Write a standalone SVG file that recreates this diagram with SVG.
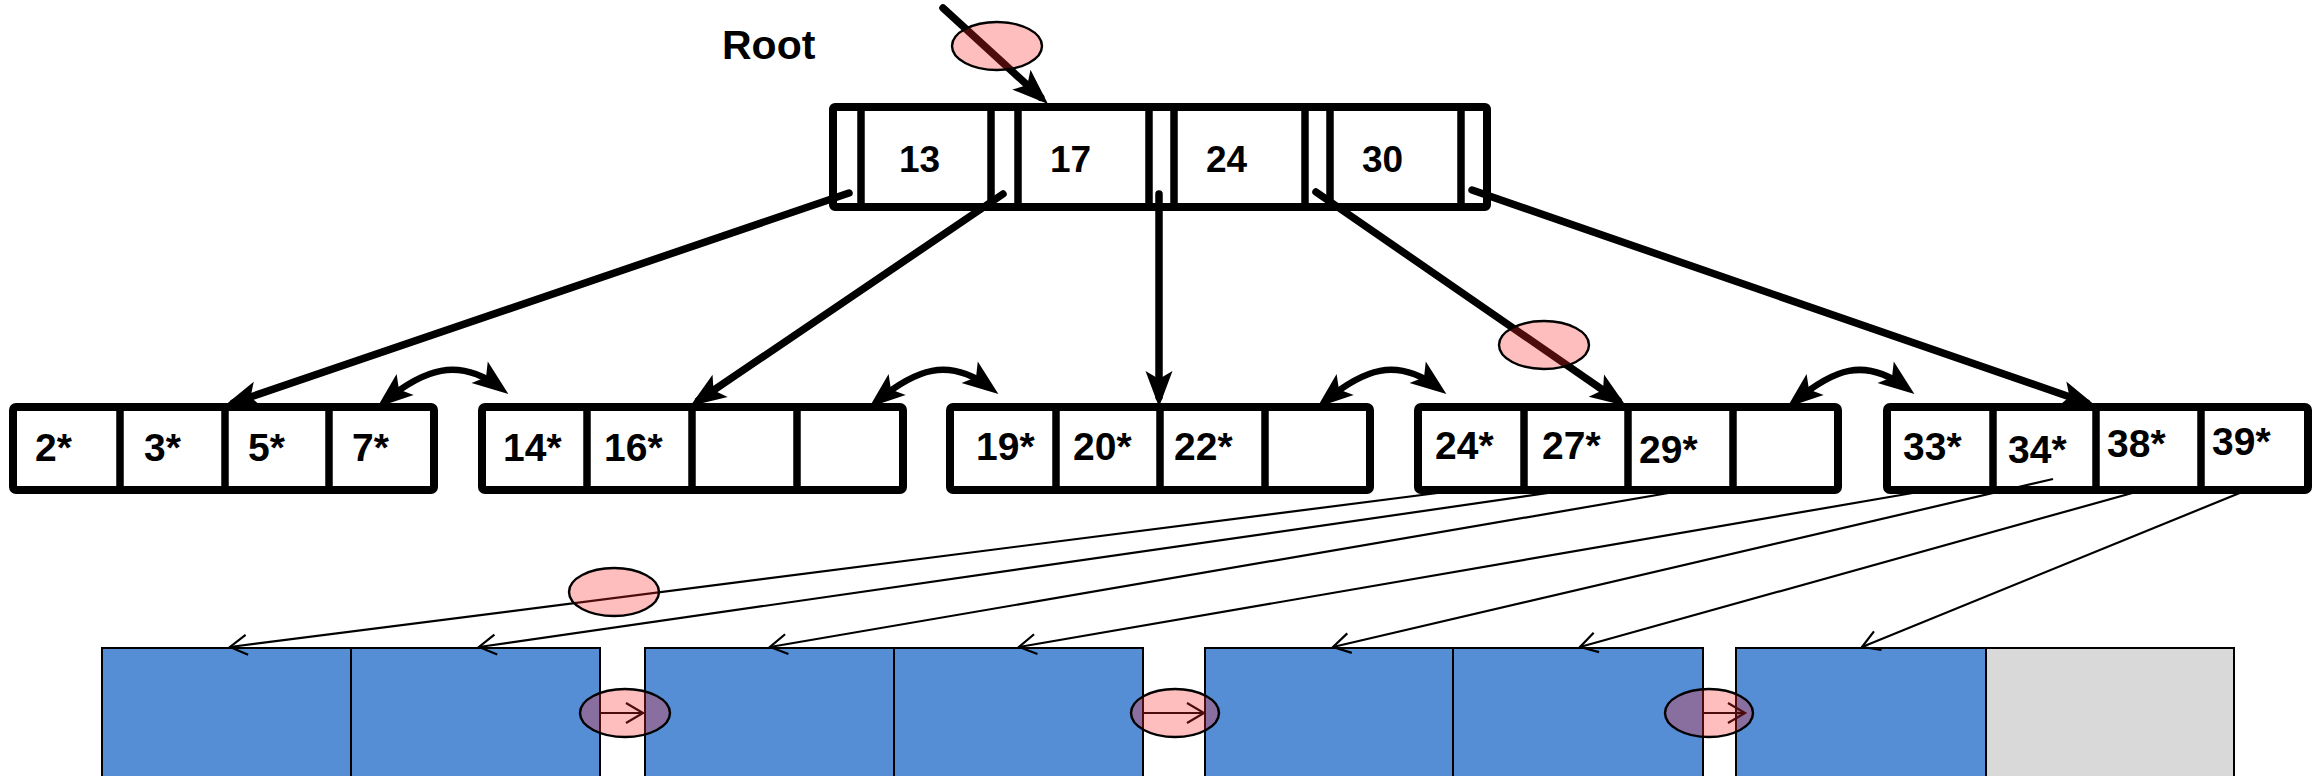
<svg xmlns="http://www.w3.org/2000/svg" width="2316" height="776" viewBox="0 0 2316 776">
<style>
.frame{fill:#fff;stroke:#000;stroke-width:8;stroke-linejoin:round}
.sep{stroke:#000;stroke-width:7.5}
.key{font-family:"Liberation Sans",Arial,sans-serif;font-weight:bold;font-size:37px;fill:#000}
.lk{font-family:"Liberation Sans",Arial,sans-serif;font-weight:bold;font-size:39px;fill:#000}
.blue{fill:#558ED5;stroke:#000;stroke-width:2}
.gray{fill:#D9D9D9;stroke:#000;stroke-width:2}
.thick{fill:none;stroke:#000;stroke-width:7.5;stroke-linecap:round;marker-end:url(#head)}
.arc{fill:none;stroke:#000;stroke-width:6.5;marker-start:url(#head2);marker-end:url(#head2)}
.thin{fill:none;stroke:#000;stroke-width:2.2;marker-end:url(#vhead)}
.hl{fill:#ff2828;fill-opacity:0.3;stroke:#000;stroke-width:2.4}
</style>
<defs>
<marker id="head" markerUnits="userSpaceOnUse" viewBox="-30 -16 42 32" refX="0" refY="0" markerWidth="42" markerHeight="32" orient="auto">
<path d="M10,0 L-26,-13.5 L-18,0 L-26,13.5 Z" fill="#000"/>
</marker>
<marker id="head2" markerUnits="userSpaceOnUse" viewBox="-30 -16 42 32" refX="0" refY="0" markerWidth="42" markerHeight="32" orient="auto-start-reverse">
<path d="M10,0 L-26,-13.5 L-18,0 L-26,13.5 Z" fill="#000"/>
</marker>
<marker id="vhead" markerUnits="userSpaceOnUse" viewBox="-20 -13 24 26" refX="0" refY="0" markerWidth="24" markerHeight="26" orient="auto">
<path d="M-17,-10 L0,0 L-17,10" fill="none" stroke="#000" stroke-width="2.2"/>
</marker>
</defs>
<rect width="2316" height="776" fill="#fff"/>

<text x="722" y="59" style="font-family:'Liberation Sans',Arial,sans-serif;font-weight:bold;font-size:41px">Root</text>

<g id="pages">
<g id="page1"><rect class="blue" x="102" y="648" width="249" height="140"/></g>
<g id="page2"><rect class="blue" x="351" y="648" width="249" height="140"/></g>
<g id="page3"><rect class="blue" x="645" y="648" width="249" height="140"/></g>
<g id="page4"><rect class="blue" x="894" y="648" width="249" height="140"/></g>
<g id="page5"><rect class="blue" x="1205" y="648" width="248" height="140"/></g>
<g id="page6"><rect class="blue" x="1453" y="648" width="250" height="140"/></g>
<g id="page7"><rect class="blue" x="1736" y="648" width="250" height="140"/></g>
<g id="page8"><rect class="gray" x="1986" y="648" width="248" height="140"/></g>
</g>

<g id="root">
<rect class="frame" x="833" y="107" width="654" height="100" rx="2"/>
<line class="sep" x1="861" y1="107" x2="861" y2="207"/>
<line class="sep" x1="991" y1="107" x2="991" y2="207"/>
<line class="sep" x1="1018" y1="107" x2="1018" y2="207"/>
<line class="sep" x1="1149" y1="107" x2="1149" y2="207"/>
<line class="sep" x1="1174" y1="107" x2="1174" y2="207"/>
<line class="sep" x1="1305" y1="107" x2="1305" y2="207"/>
<line class="sep" x1="1330" y1="107" x2="1330" y2="207"/>
<line class="sep" x1="1461" y1="107" x2="1461" y2="207"/>
<text class="key" x="899" y="172">13</text>
<text class="key" x="1050" y="172">17</text>
<text class="key" x="1206" y="172">24</text>
<text class="key" x="1362" y="172">30</text>
</g>

<g id="leaf1">
<rect class="frame" x="13" y="407" width="421" height="83" rx="3"/>
<line class="sep" x1="120" y1="407" x2="120" y2="490"/>
<line class="sep" x1="225" y1="407" x2="225" y2="490"/>
<line class="sep" x1="329" y1="407" x2="329" y2="490"/>
<text class="lk" x="35" y="461">2*</text>
<text class="lk" x="144" y="461">3*</text>
<text class="lk" x="248" y="461">5*</text>
<text class="lk" x="352" y="461">7*</text>
</g>
<g id="leaf2">
<rect class="frame" x="482" y="407" width="421" height="83" rx="3"/>
<line class="sep" x1="587" y1="407" x2="587" y2="490"/>
<line class="sep" x1="692" y1="407" x2="692" y2="490"/>
<line class="sep" x1="797" y1="407" x2="797" y2="490"/>
<text class="lk" x="503" y="461">14*</text>
<text class="lk" x="604" y="461">16*</text>
</g>
<g id="leaf3">
<rect class="frame" x="950" y="407" width="420" height="83" rx="3"/>
<line class="sep" x1="1056" y1="407" x2="1056" y2="490"/>
<line class="sep" x1="1160" y1="407" x2="1160" y2="490"/>
<line class="sep" x1="1265" y1="407" x2="1265" y2="490"/>
<text class="lk" x="976" y="460">19*</text>
<text class="lk" x="1073" y="460">20*</text>
<text class="lk" x="1174" y="460">22*</text>
</g>
<g id="leaf4">
<rect class="frame" x="1418" y="407" width="420" height="83" rx="3"/>
<line class="sep" x1="1524" y1="407" x2="1524" y2="490"/>
<line class="sep" x1="1628" y1="407" x2="1628" y2="490"/>
<line class="sep" x1="1733" y1="407" x2="1733" y2="490"/>
<text class="lk" x="1435" y="459">24*</text>
<text class="lk" x="1542" y="459">27*</text>
<text class="lk" x="1639" y="463">29*</text>
</g>
<g id="leaf5">
<rect class="frame" x="1887" y="407" width="421" height="83" rx="3"/>
<line class="sep" x1="1993" y1="407" x2="1993" y2="490"/>
<line class="sep" x1="2096" y1="407" x2="2096" y2="490"/>
<line class="sep" x1="2201" y1="407" x2="2201" y2="490"/>
<text class="lk" x="1903" y="460">33*</text>
<text class="lk" x="2008" y="463">34*</text>
<text class="lk" x="2107" y="457">38*</text>
<text class="lk" x="2212" y="455">39*</text>
</g>

<g id="connectors">
<path class="thick" d="M943,8 L1040.6,97.2"/>
<path class="thick" d="M849,193 L233.5,402.8"/>
<path class="thick" d="M1003,194 L698.6,400.4"/>
<path class="thick" d="M1159,194 L1159,397"/>
<path class="thick" d="M1316,192 L1617.8,400.3"/>
<path class="thick" d="M1472,190 L2086.5,402.7"/>
<path class="arc" d="M385,401 C423,370 458,356 500.4,388"/>
<path class="arc" d="M877,401 C915,370 948,356 990.4,388"/>
<path class="arc" d="M1325,401 C1363,370 1396,356 1438.4,388"/>
<path class="arc" d="M1795,401 C1833,370 1864,356 1906.4,388"/>
<path class="thin" d="M1461,490 L230,647"/>
<path class="thin" d="M1569,490 L479,647"/>
<path class="thin" d="M1686,490 L770,647"/>
<path class="thin" d="M1930,490 L1019,647"/>
<path class="thin" d="M2053,479 L1333,647"/>
<path class="thin" d="M2143,490 L1580,647"/>
<path class="thin" d="M2247,490 L1862,647"/>
<path class="thin" d="M600,713 L643,713"/>
<path class="thin" d="M1143,713 L1204,713"/>
<path class="thin" d="M1703,713 L1745,713"/>
</g>

<g id="highlights">
<ellipse class="hl" cx="997" cy="46" rx="45" ry="24"/>
<ellipse class="hl" cx="1544" cy="345" rx="45" ry="24"/>
<ellipse class="hl" cx="614" cy="592" rx="45" ry="24"/>
<ellipse class="hl" cx="625" cy="713" rx="45" ry="24"/>
<ellipse class="hl" cx="1175" cy="713" rx="44" ry="24"/>
<ellipse class="hl" cx="1709" cy="713" rx="44" ry="24"/>
</g>
</svg>
